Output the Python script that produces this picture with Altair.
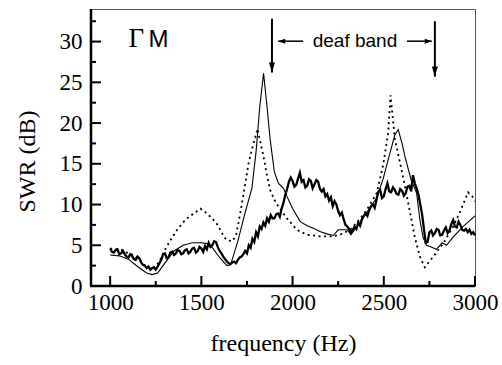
import altair as alt
import pandas as pd

# ---- data ----
thin_f = [1000, 1050, 1100, 1150, 1200, 1230, 1260, 1300, 1350, 1400, 1450, 1500, 1530, 1560,
          1600, 1640, 1660, 1700, 1740, 1777, 1800, 1820, 1841, 1860, 1877, 1900, 1923, 1950,
          1969, 2000, 2042, 2080, 2114, 2150, 2187, 2224, 2250, 2300, 2320, 2360, 2406, 2461,
          2497, 2530, 2560, 2579, 2600, 2616, 2650, 2680, 2698, 2715, 2734, 2760, 2789, 2820,
          2844, 2880, 2934, 2970, 3000]
thin_v = [3.8, 3.7, 3.3, 2.4, 1.6, 1.4, 1.6, 2.8, 4.3, 5.0, 5.3, 5.3, 5.2, 4.7,
          3.5, 2.5, 2.6, 5.5, 9.0, 12.0, 16.5, 22.0, 26.1, 22.0, 18.0, 14.0, 12.6, 12.0,
          11.0, 9.5, 7.9, 7.4, 7.1, 6.7, 6.4, 6.2, 6.9, 6.9, 6.3, 7.5, 9.0, 10.8,
          13.2, 16.0, 18.5, 19.2, 17.5, 15.9, 13.0, 11.4, 8.1, 6.0, 5.0, 4.8, 4.5, 5.3,
          5.0, 6.0, 7.3, 8.0, 8.6]

dot_f = [1000, 1057, 1100, 1130, 1170, 1200, 1240, 1270, 1294, 1330, 1367, 1400, 1422, 1458,
         1495, 1520, 1549, 1580, 1604, 1625, 1641, 1670, 1690, 1713, 1740, 1759, 1780, 1808,
         1825, 1841, 1860, 1877, 1900, 1923, 1969, 2023, 2078, 2151, 2224, 2270, 2315, 2360,
         2406, 2461, 2497, 2524, 2537, 2561, 2597, 2634, 2670, 2698, 2725, 2771, 2825, 2880,
         2920, 2962, 2985, 3000]
dot_v = [4.6, 4.5, 4.0, 3.8, 3.0, 2.3, 2.2, 3.0, 4.2, 5.6, 6.9, 7.8, 8.3, 8.9,
         9.5, 9.1, 8.5, 7.8, 6.9, 6.0, 5.6, 5.5, 6.2, 8.9, 12.5, 15.1, 17.0, 19.3,
         17.5, 15.9, 13.5, 11.8, 10.6, 9.7, 8.3, 6.9, 6.3, 6.1, 6.1, 6.4, 6.9, 8.0,
         9.3, 11.4, 14.9, 18.8, 23.4, 18.0, 14.3, 10.2, 6.0, 3.6, 2.3, 3.6, 5.2, 7.3,
         9.2, 11.5, 11.0, 10.4]

thick_f = list(range(1000, 3001, 10))
thick_v = [
    4.6, 4.2, 4.1, 4.4, 4.5, 3.9, 4.0, 4.3, 3.9, 3.6,   # 1000-1090
    3.5, 3.9, 3.7, 3.3, 3.2, 3.6, 3.4, 2.9, 2.6, 2.5,   # 1100-1190
    2.2, 2.4, 2.0, 2.2, 2.3, 2.0, 2.4, 2.8, 3.2, 3.9,   # 1200-1290
    4.0, 3.4, 3.5, 4.1, 4.2, 3.8, 4.0, 4.4, 4.3, 3.9,   # 1300-1390
    4.0, 4.4, 4.5, 4.0, 4.2, 4.6, 4.7, 4.1, 4.3, 4.8,   # 1400-1490
    4.6, 4.2, 4.9, 4.5, 5.3, 4.8, 5.0, 5.5, 5.4, 4.8,   # 1500-1590
    4.3, 4.0, 3.6, 3.3, 3.0, 2.8, 2.7, 2.9, 3.0, 2.8,   # 1600-1690
    3.2, 3.5, 3.6, 3.9, 4.3, 4.0, 5.0, 4.7, 5.8, 5.4,   # 1700-1790
    6.6, 6.1, 7.3, 7.0, 7.8, 7.4, 8.3, 7.9, 8.7, 8.3,   # 1800-1890
    8.3, 8.8, 8.9, 8.5, 9.5, 10.2, 11.2, 11.9, 12.8, 13.3,  # 1900-1990
    12.9, 12.2, 12.4, 13.2, 13.9, 12.8, 13.0, 12.1, 12.3, 13.1,  # 2000-2090
    12.9, 12.0, 12.5, 13.0, 12.8, 11.9, 11.6, 11.9, 11.0, 11.3,  # 2100-2190
    10.5, 10.9, 9.8, 10.4, 10.0, 9.2, 8.7, 9.0, 8.2, 7.5,   # 2200-2290
    7.3, 7.0, 6.5, 6.9, 7.3, 7.0, 7.8, 7.4, 8.2, 8.6,   # 2300-2390
    8.9, 8.6, 9.3, 9.8, 10.0, 9.6, 10.6, 11.6, 11.8, 10.8,  # 2400-2490
    11.0, 11.9, 12.6, 11.6, 11.5, 12.1, 11.8, 11.3, 11.2, 11.9,  # 2500-2590
    11.7, 11.1, 11.4, 12.2, 12.3, 11.6, 13.6, 12.6, 12.0, 11.2,  # 2600-2690
    10.0, 8.8, 7.0, 5.3, 5.4, 6.6, 6.8, 6.2, 6.5, 7.0,   # 2700-2790
    6.9, 6.2, 6.3, 6.8, 7.2, 6.5, 6.8, 7.6, 8.1, 7.3,   # 2800-2890
    7.2, 7.9, 7.5, 6.9, 6.8, 7.0, 6.6, 6.9, 6.4, 6.6,   # 2900-2990
    6.2,                                                 # 3000
]

x_major = [1000, 1500, 2000, 2500, 3000]
x_minor = [1250, 1750, 2250, 2750]
y_labels = [0, 5, 10, 15, 20, 25, 30]
y_major = [5, 10, 15, 20, 25, 30]
y_minor = [2.5, 7.5, 12.5, 17.5, 22.5, 27.5, 32.5]

band_arrows_f = [1887, 2780]
band_arrows_top = [32.8, 32.5]
band_arrows_tip = [26.2, 25.7]

# ---- layout ----
W, H = 384, 277
xs = alt.Scale(domain=[895, 3000], nice=False, zero=False)
ys = alt.Scale(domain=[0, 34], nice=False, zero=False)
SERIF = "Liberation Serif"
SANS = "Liberation Sans"

xaxis = alt.Axis(values=x_major, title="frequency (Hz)", ticks=False, domain=False, grid=False,
                 labelFont=SERIF, labelFontSize=23, labelColor="black", labelPadding=5,
                 labelFlush=False, format="d", titleFont=SERIF, titleFontSize=24,
                 titleFontWeight="normal", titleColor="black", titleBaseline="middle", titleY=57)
yaxis = alt.Axis(values=y_labels, title="SWR (dB)", ticks=False, domain=False, grid=False,
                 labelFont=SERIF, labelFontSize=23, labelColor="black", labelPadding=9,
                 labelFlush=False, format="d", titleFont=SERIF, titleFontSize=24,
                 titleFontWeight="normal", titleColor="black", titleBaseline="middle",
                 titleAngle=270, titleX=-64, titleY=152)


def fx(field="f:Q"):
    return alt.X(field, scale=xs, axis=xaxis, title="frequency (Hz)")


def vy(field="v:Q"):
    return alt.Y(field, scale=ys, axis=yaxis, title="SWR (dB)")


thin = alt.Chart(pd.DataFrame({"f": thin_f, "v": thin_v})).mark_line(
    color="black", strokeWidth=1.1).encode(x=fx(), y=vy())
dotted = alt.Chart(pd.DataFrame({"f": dot_f, "v": dot_v})).mark_line(
    color="black", strokeWidth=1.8, strokeDash=[2, 3.5]).encode(x=fx(), y=vy())
thick = alt.Chart(pd.DataFrame({"f": thick_f, "v": thick_v})).mark_line(
    color="black", strokeWidth=2.3, strokeJoin="miter").encode(x=fx(), y=vy())

# inward ticks
ytm = alt.Chart(pd.DataFrame({"v": y_major})).mark_rule(color="black", strokeWidth=2).encode(
    y=vy(), x=alt.value(0), x2=alt.value(10))
ytn = alt.Chart(pd.DataFrame({"v": y_minor})).mark_rule(color="black", strokeWidth=2).encode(
    y=vy(), x=alt.value(0), x2=alt.value(5))
xtm = alt.Chart(pd.DataFrame({"f": x_major})).mark_rule(color="black", strokeWidth=2).encode(
    x=fx(), y=alt.value(H), y2=alt.value(H - 10))
xtn = alt.Chart(pd.DataFrame({"f": x_minor})).mark_rule(color="black", strokeWidth=2).encode(
    x=fx(), y=alt.value(H), y2=alt.value(H - 5))

# thick left and bottom axis lines
left_line = alt.Chart(pd.DataFrame({"a": [0]})).mark_rule(color="black", strokeWidth=2.5).encode(
    x=alt.value(0), y=alt.value(0), y2=alt.value(H))
bottom_line = alt.Chart(pd.DataFrame({"a": [0]})).mark_rule(color="black", strokeWidth=2.5).encode(
    x=alt.value(-1), x2=alt.value(W), y=alt.value(H))

# annotations
gamma = alt.Chart(pd.DataFrame({"f": [1100], "v": [29.3], "t": ["Γ"]})).mark_text(
    font=SERIF, fontSize=27, align="left", baseline="alphabetic", color="black").encode(
    x=fx(), y=vy(), text="t:N")
em = alt.Chart(pd.DataFrame({"f": [1210], "v": [29.3], "t": ["M"]})).mark_text(
    font=SANS, fontSize=24, align="left", baseline="alphabetic", color="black").encode(
    x=fx(), y=vy(), text="t:N")
band_text = alt.Chart(pd.DataFrame({"f": [2342], "v": [29.3], "t": ["deaf band"]})).mark_text(
    font=SANS, fontSize=19, align="center", baseline="alphabetic", color="black").encode(
    x=fx(), y=vy(), text="t:N")

varr = pd.DataFrame({"f": band_arrows_f, "v": band_arrows_top, "v2": band_arrows_tip})
vlines = alt.Chart(varr).mark_rule(color="black", strokeWidth=2).encode(
    x=fx(), y=vy(), y2="v2:Q")
vheads = alt.Chart(pd.DataFrame({"f": band_arrows_f, "v": band_arrows_tip})).mark_point(
    shape="M0,0 L-0.6,-2 L0.6,-2 Z", filled=True, size=100, color="black", opacity=1).encode(
    x=fx(), y=vy())

harr = pd.DataFrame({"f": [1921, 2627], "f2": [2058, 2763], "v": [30.05, 30.05]})
hlines = alt.Chart(harr).mark_rule(color="black", strokeWidth=1.5).encode(
    x=fx(), x2="f2:Q", y=vy())
hl = alt.Chart(pd.DataFrame({"f": [1921], "v": [30.05]})).mark_point(
    shape="M0,0 L2,-0.7 L2,0.7 Z", filled=True, size=49, color="black", opacity=1).encode(
    x=fx(), y=vy())
hr = alt.Chart(pd.DataFrame({"f": [2763], "v": [30.05]})).mark_point(
    shape="M0,0 L-2,-0.7 L-2,0.7 Z", filled=True, size=49, color="black", opacity=1).encode(
    x=fx(), y=vy())

chart = alt.layer(
    thin, dotted, thick, ytm, ytn, xtm, xtn, left_line, bottom_line,
    gamma, em, band_text, vlines, vheads, hlines, hl, hr
).properties(
    width=W, height=H,
    padding={"left": 91, "top": 9, "right": 27, "bottom": 79},
    autosize=alt.AutoSizeParams(type="none"),
    background="white",
).configure_view(stroke="#555", strokeWidth=1)

chart.save("out.html", embed_options={"renderer": "svg", "actions": False})
